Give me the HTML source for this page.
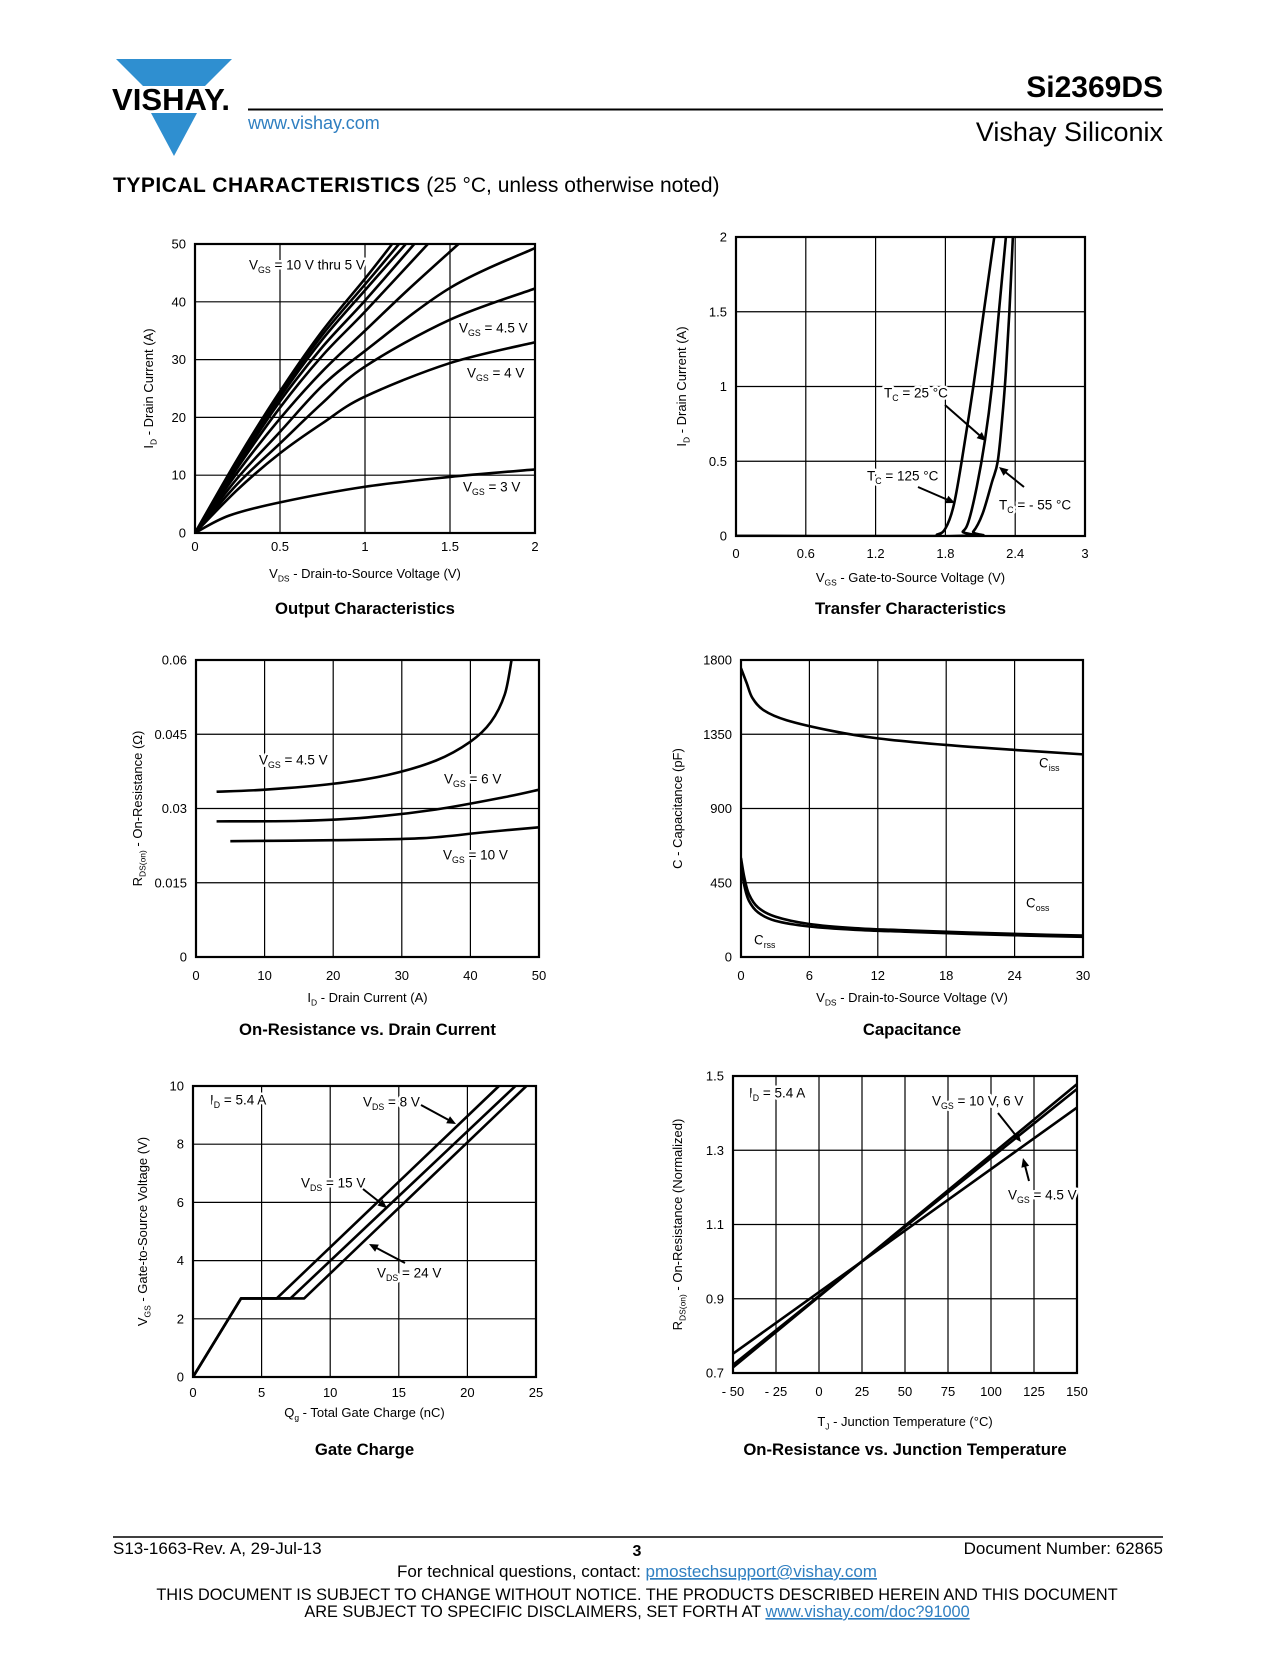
<!DOCTYPE html>
<html><head><meta charset="utf-8"><title>Si2369DS Typical Characteristics</title>
<style>
html,body{margin:0;padding:0;background:#fff;}
body{width:1275px;height:1650px;overflow:hidden;position:relative;font-family:"Liberation Sans",sans-serif;}
svg text{font-family:"Liberation Sans",sans-serif;}
</style></head>
<body>
<svg id="pg" width="1275" height="1650" viewBox="0 0 1275 1650" xmlns="http://www.w3.org/2000/svg">
  <g>
    <polygon points="116,59 232,59 205,86 143,86" fill="#2f8fd0"/>
    <polygon points="151,113 197,113 174,156" fill="#2f8fd0"/>
    <text x="112" y="110" font-size="31" font-weight="bold" textLength="118" lengthAdjust="spacingAndGlyphs" fill="#000">VISHAY.</text>
  </g>
  <text x="248" y="129" font-size="18" fill="#2f7fc1">www.vishay.com</text>
  <line x1="248" y1="109.5" x2="1163" y2="109.5" stroke="#000" stroke-width="2"/>
  <text x="1163" y="97" font-size="30" font-weight="bold" text-anchor="end">Si2369DS</text>
  <text x="1163" y="141" font-size="27" text-anchor="end">Vishay Siliconix</text>
  <text x="113" y="192" font-size="21"><tspan font-weight="bold" letter-spacing="0.5">TYPICAL CHARACTERISTICS</tspan> (25 °C, unless otherwise noted)</text>

  <line x1="113" y1="1537" x2="1163" y2="1537" stroke="#000" stroke-width="1.5"/>
  <text x="113" y="1554" font-size="17">S13-1663-Rev. A, 29-Jul-13</text>
  <text x="637" y="1556" font-size="16" font-weight="bold" text-anchor="middle">3</text>
  <text x="1163" y="1554" font-size="17" text-anchor="end">Document Number: 62865</text>
  <text x="637" y="1577" font-size="17" text-anchor="middle">For technical questions, contact: <tspan fill="#2f7fc1" text-decoration="underline">pmostechsupport@vishay.com</tspan></text>
  <text x="637" y="1600" font-size="16.3" text-anchor="middle">THIS DOCUMENT IS SUBJECT TO CHANGE WITHOUT NOTICE. THE PRODUCTS DESCRIBED HEREIN AND THIS DOCUMENT</text>
  <text x="637" y="1617" font-size="16.3" text-anchor="middle">ARE SUBJECT TO SPECIFIC DISCLAIMERS, SET FORTH AT <tspan fill="#2f7fc1" text-decoration="underline">www.vishay.com/doc?91000</tspan></text>
</svg>
<script>
// ===== Chart 1: Output Characteristics =====
const outXTicks = [0, 0.5, 1, 1.5, 2];
const outYTicks = [0, 10, 20, 30, 40, 50];
const outXTickLabels = ["0", "0.5", "1", "1.5", "2"];
const outYTickLabels = ["0", "10", "20", "30", "40", "50"];
const outVgs10 = [[0,0],[0.25,12.8],[0.5,24.5],[0.75,35],[1,44],[1.16,50]];
const outVgs8 = [[0,0],[0.25,12.5],[0.5,24],[0.75,34.3],[1,43],[1.2,50]];
const outVgs7 = [[0,0],[0.25,12.2],[0.5,23.5],[0.75,33.5],[1,42],[1.24,50]];
const outVgs6 = [[0,0],[0.25,11.8],[0.5,22.8],[0.75,32.2],[1,40.2],[1.29,50]];
const outVgs5 = [[0,0],[0.25,11.3],[0.5,21.7],[0.75,30.7],[1,38.3],[1.37,50]];
const outVgs5b = [[0,0],[0.25,10.5],[0.5,19.8],[0.75,28],[1,35],[1.25,42],[1.55,50]];
const outVgs45a = [[0,0],[0.25,9.5],[0.5,17.5],[0.75,25.5],[1,31.5],[1.5,42.4],[2,49.3]];
const outVgs45 = [[0,0],[0.25,8.5],[0.5,15.5],[0.75,22.5],[1,28.8],[1.5,36.9],[2,42.3]];
const outVgs4 = [[0,0],[0.25,7.5],[0.5,13.8],[0.75,19],[1,23.6],[1.5,29.4],[2,33]];
const outVgs3 = [[0,0],[0.2,3],[0.5,5.3],[1,8],[1.5,9.7],[2,11]];

// ===== Chart 2: Transfer Characteristics =====
const trXTicks = [0, 0.6, 1.2, 1.8, 2.4, 3];
const trYTicks = [0, 0.5, 1, 1.5, 2];
const trXTickLabels = ["0", "0.6", "1.2", "1.8", "2.4", "3"];
const trYTickLabels = ["0", "0.5", "1", "1.5", "2"];
const trT125 = [[0,0],[1.6,0],[1.73,0.01],[1.8,0.05],[1.87,0.2],[1.94,0.5],[2.04,1.0],[2.13,1.5],[2.22,2.0]];
const trT25 = [[0,0],[1.88,0],[1.95,0.03],[2.0,0.1],[2.07,0.33],[2.14,0.64],[2.2,1.0],[2.26,1.5],[2.32,2.0]];
const trTm55 = [[0,0],[1.96,0],[2.04,0.03],[2.12,0.15],[2.2,0.36],[2.25,0.5],[2.29,0.8],[2.32,1.1],[2.35,1.5],[2.38,2.0]];

// ===== Chart 3: On-Resistance vs Drain Current =====
const rdXTicks = [0, 10, 20, 30, 40, 50];
const rdYTicks = [0, 0.015, 0.03, 0.045, 0.06];
const rdXTickLabels = ["0", "10", "20", "30", "40", "50"];
const rdYTickLabels = ["0", "0.015", "0.03", "0.045", "0.06"];
const rdVgs45 = [[3,0.0334],[10,0.0338],[20,0.035],[28,0.0368],[35,0.0397],[40,0.0435],[43,0.0475],[45,0.053],[46,0.06]];
const rdVgs6 = [[3,0.0274],[15,0.0275],[25,0.0282],[35,0.0298],[45,0.0323],[50,0.0338]];
const rdVgs10 = [[5,0.0234],[20,0.0236],[33,0.024],[42,0.0252],[50,0.0262]];

// ===== Chart 4: Capacitance =====
const capXTicks = [0, 6, 12, 18, 24, 30];
const capYTicks = [0, 450, 900, 1350, 1800];
const capXTickLabels = ["0", "6", "12", "18", "24", "30"];
const capYTickLabels = ["0", "450", "900", "1350", "1800"];
const capCiss = [[0,1750],[0.5,1660],[1,1570],[2,1495],[4,1435],[8,1370],[12,1325],[18,1285],[24,1255],[30,1228]];
const capCoss = [[0,600],[0.3,480],[0.7,380],[1.5,300],[3,245],[6,200],[10,175],[15,160],[20,148],[25,138],[30,130]];
const capCrss = [[0,560],[0.3,430],[0.7,340],[1.5,270],[3,220],[6,185],[10,165],[15,152],[20,140],[25,130],[30,122]];

// ===== Chart 5: Gate Charge =====
const gcXTicks = [0, 5, 10, 15, 20, 25];
const gcYTicks = [0, 2, 4, 6, 8, 10];
const gcXTickLabels = ["0", "5", "10", "15", "20", "25"];
const gcYTickLabels = ["0", "2", "4", "6", "8", "10"];
const gcVds8 = [[0,0],[3.5,2.7],[6.1,2.7],[22.3,10]];
const gcVds15 = [[0,0],[3.5,2.7],[7.1,2.7],[23.5,10]];
const gcVds24 = [[0,0],[3.5,2.7],[8.1,2.7],[24.3,10]];

// ===== Chart 6: On-Resistance vs Junction Temperature =====
const tjXTicks = [-50, -25, 0, 25, 50, 75, 100, 125, 150];
const tjYTicks = [0.7, 0.9, 1.1, 1.3, 1.5];
const tjXTickLabels = ["- 50", "- 25", "0", "25", "50", "75", "100", "125", "150"];
const tjYTickLabels = ["0.7", "0.9", "1.1", "1.3", "1.5"];
const tjVgs10 = [[-50,0.715],[150,1.478]];
const tjVgs6 = [[-50,0.722],[150,1.465]];
const tjVgs45 = [[-50,0.752],[150,1.415]];

const NS = "http://www.w3.org/2000/svg";
const pg = document.getElementById('pg');

function mk(tag, attrs, parent) {
  const e = document.createElementNS(NS, tag);
  for (const k in attrs) e.setAttribute(k, attrs[k]);
  (parent || pg).appendChild(e);
  return e;
}
function richText(g, str, x, y, size, anchor, extra) {
  const t = mk('text', Object.assign({x: x, y: y, 'font-size': size, 'text-anchor': anchor || 'start', fill: '#000'}, extra || {}), g);
  const parts = str.split(/(_\{[^}]*\})/);
  parts.forEach(p => {
    if (!p) return;
    if (p.startsWith('_{')) {
      const s = mk('tspan', {'font-size': size * 0.65, dy: size * 0.25}, t);
      s.textContent = p.slice(2, -1);
      const r = mk('tspan', {dy: -size * 0.25}, t);
      r.textContent = '\u200B';
    } else {
      const s = mk('tspan', {}, t);
      s.textContent = p;
    }
  });
  return t;
}
function smoothPath(pts) {
  if (pts.length < 3) return 'M' + pts.map(p => p[0].toFixed(2) + ',' + p[1].toFixed(2)).join(' L');
  let d = 'M' + pts[0][0].toFixed(2) + ',' + pts[0][1].toFixed(2);
  for (let i = 0; i < pts.length - 1; i++) {
    const p0 = pts[i - 1] || pts[i], p1 = pts[i], p2 = pts[i + 1], p3 = pts[i + 2] || pts[i + 1];
    const c1 = [p1[0] + (p2[0] - p0[0]) / 6, p1[1] + (p2[1] - p0[1]) / 6];
    const c2 = [p2[0] - (p3[0] - p1[0]) / 6, p2[1] - (p3[1] - p1[1]) / 6];
    d += ' C' + c1.map(v => v.toFixed(2)).join(',') + ' ' + c2.map(v => v.toFixed(2)).join(',') + ' ' + p2[0].toFixed(2) + ',' + p2[1].toFixed(2);
  }
  return d;
}

function chart(c) {
  const g = mk('g', {});
  
  
  const xmin = c.xTicks[0], xmax = c.xTicks[c.xTicks.length - 1];
  const ymin = c.yTicks[0], ymax = c.yTicks[c.yTicks.length - 1];
  const sx = v => c.L + (v - xmin) / (xmax - xmin) * (c.R - c.L);
  const sy = v => c.B - (v - ymin) / (ymax - ymin) * (c.B - c.T);
  c.xTicks.forEach((v, i) => {
    const ln = mk('line', {x1: sx(v), x2: sx(v), y1: c.T, y2: c.B, stroke: '#000', 'stroke-width': 1.2}, g);
    
    
    const t = mk('text', {x: sx(v), y: c.B + c.xTickDy, 'font-size': 13, 'text-anchor': 'middle'}, g);
    t.textContent = c.xLabels[i];
    
    
  });
  c.yTicks.forEach((v, i) => {
    const ln = mk('line', {x1: c.L, x2: c.R, y1: sy(v), y2: sy(v), stroke: '#000', 'stroke-width': 1.2}, g);
    
    
    const t = mk('text', {x: c.L - 9, y: sy(v) + 4.5, 'font-size': 13, 'text-anchor': 'end'}, g);
    t.textContent = c.yLabels[i];
    
    
  });
  const fr = mk('rect', {x: c.L, y: c.T, width: c.R - c.L, height: c.B - c.T, fill: 'none', stroke: '#000', 'stroke-width': 2.2}, g);
  
  
  (c.notes || []).forEach(n => {
    const t = richText(g, n[0], n[1], n[2] + 4.5, 13.5, 'start', {stroke: '#fff', 'stroke-width': 5, 'paint-order': 'stroke', 'stroke-linejoin': 'round'});
    
    
  });
  const clip = 'clip-' + c.name;
  const cp = mk('clipPath', {id: clip}, g);
  mk('rect', {x: c.L - 1, y: c.T - 1, width: c.R - c.L + 2, height: c.B - c.T + 2}, cp);
  c.series.forEach(s => {
    const pts = s.data.map(p => [sx(p[0]), sy(p[1])]);
    const d = s.linear ? 'M' + pts.map(p => p[0].toFixed(2) + ',' + p[1].toFixed(2)).join(' L') : smoothPath(pts);
    const p = mk('path', {d: d, fill: 'none', stroke: '#000', 'stroke-width': 2.6, 'stroke-linejoin': 'round', 'clip-path': 'url(#' + clip + ')'}, g);
    
    
  });
  (c.arrows || []).forEach(a => {
    const [x1, y1, x2, y2] = a;
    const ang = Math.atan2(y2 - y1, x2 - x1), L = 9, W = 4;
    const ln = mk('line', {x1: x1, y1: y1, x2: x2 - Math.cos(ang) * 6, y2: y2 - Math.sin(ang) * 6, stroke: '#000', 'stroke-width': 2}, g);
    
    
    const bx = x2 - Math.cos(ang) * L, by = y2 - Math.sin(ang) * L;
    const hd = mk('polygon', {points: [x2, y2, bx + Math.sin(ang) * W, by - Math.cos(ang) * W, bx - Math.sin(ang) * W, by + Math.cos(ang) * W].join(','), fill: '#000'}, g);
    
    
  });
  const xt = richText(g, c.xTitle, (c.L + c.R) / 2, c.B + c.xTitleDy, 13, 'middle');
  
  
  const yc = (c.T + c.B) / 2;
  const yt = richText(g, c.yTitle, c.yTitleX, yc, 13, 'middle', {transform: 'rotate(-90 ' + c.yTitleX + ' ' + yc + ')'});
  
  
  const ct = mk('text', {x: (c.L + c.R) / 2, y: c.titleY, 'font-size': 16.7, 'font-weight': 'bold', 'text-anchor': 'middle'}, g);
  ct.textContent = c.title;
  
  
}

chart({name: 'output-characteristics-chart', L: 195, R: 535, T: 244, B: 533,
  xTicks: outXTicks, yTicks: outYTicks, xLabels: outXTickLabels, yLabels: outYTickLabels,
  xTickDy: 18, xTitleDy: 45, yTitleX: 153, titleY: 614,
  xTitle: 'V_{DS} - Drain-to-Source Voltage (V)', yTitle: 'I_{D} - Drain Current (A)', title: 'Output Characteristics',
  notes: [['V_{GS} = 10 V thru 5 V', 249, 265], ['V_{GS} = 4.5 V', 459, 328], ['V_{GS} = 4 V', 467, 373], ['V_{GS} = 3 V', 463, 487]],
  series: [{name: 'vgs-10v-curve', data: outVgs10}, {name: 'vgs-8v-curve', data: outVgs8}, {name: 'vgs-7v-curve', data: outVgs7},
    {name: 'vgs-6v-curve', data: outVgs6}, {name: 'vgs-5v-curve', data: outVgs5}, {name: 'vgs-5v-lower-curve', data: outVgs5b},
    {name: 'vgs-4-5v-upper-curve', data: outVgs45a}, {name: 'vgs-4-5v-curve', data: outVgs45}, {name: 'vgs-4v-curve', data: outVgs4},
    {name: 'vgs-3v-curve', data: outVgs3}]});

chart({name: 'transfer-characteristics-chart', L: 736, R: 1085, T: 237, B: 536,
  xTicks: trXTicks, yTicks: trYTicks, xLabels: trXTickLabels, yLabels: trYTickLabels,
  xTickDy: 22, xTitleDy: 46, yTitleX: 686, titleY: 614,
  xTitle: 'V_{GS} - Gate-to-Source Voltage (V)', yTitle: 'I_{D} - Drain Current (A)', title: 'Transfer Characteristics',
  notes: [['T_{C} = 25 °C', 884, 393], ['T_{C} = 125 °C', 867, 476], ['T_{C} = - 55 °C', 999, 505]],
  arrows: [[945, 405, 986, 441], [918, 487, 955, 503], [1024, 487, 999, 467]],
  series: [{name: 'tc-125c-curve', data: trT125}, {name: 'tc-25c-curve', data: trT25}, {name: 'tc-minus55c-curve', data: trTm55}]});

chart({name: 'on-resistance-vs-drain-current-chart', L: 196, R: 539, T: 660, B: 957,
  xTicks: rdXTicks, yTicks: rdYTicks, xLabels: rdXTickLabels, yLabels: rdYTickLabels,
  xTickDy: 23, xTitleDy: 45, yTitleX: 142, titleY: 1035,
  xTitle: 'I_{D} - Drain Current (A)', yTitle: 'R_{DS(on)} - On-Resistance (Ω)', title: 'On-Resistance vs. Drain Current',
  notes: [['V_{GS} = 4.5 V', 259, 760], ['V_{GS} = 6 V', 444, 779], ['V_{GS} = 10 V', 443, 855]],
  series: [{name: 'vgs-4-5v-curve', data: rdVgs45}, {name: 'vgs-6v-curve', data: rdVgs6}, {name: 'vgs-10v-curve', data: rdVgs10}]});

chart({name: 'capacitance-chart', L: 741, R: 1083, T: 660, B: 957,
  xTicks: capXTicks, yTicks: capYTicks, xLabels: capXTickLabels, yLabels: capYTickLabels,
  xTickDy: 23, xTitleDy: 45, yTitleX: 682, titleY: 1035,
  xTitle: 'V_{DS} - Drain-to-Source Voltage (V)', yTitle: 'C - Capacitance (pF)', title: 'Capacitance',
  notes: [['C_{iss}', 1039, 763], ['C_{oss}', 1026, 903], ['C_{rss}', 754, 940]],
  series: [{name: 'ciss-curve', data: capCiss}, {name: 'coss-curve', data: capCoss}, {name: 'crss-curve', data: capCrss}]});

chart({name: 'gate-charge-chart', L: 193, R: 536, T: 1086, B: 1377,
  xTicks: gcXTicks, yTicks: gcYTicks, xLabels: gcXTickLabels, yLabels: gcYTickLabels,
  xTickDy: 20, xTitleDy: 40, yTitleX: 147, titleY: 1455,
  xTitle: 'Q_{g} - Total Gate Charge (nC)', yTitle: 'V_{GS} - Gate-to-Source Voltage (V)', title: 'Gate Charge',
  notes: [['I_{D} = 5.4 A', 210, 1100], ['V_{DS} = 8 V', 363, 1102], ['V_{DS} = 15 V', 301, 1183], ['V_{DS} = 24 V', 377, 1273]],
  arrows: [[421, 1105, 456, 1124], [363, 1189, 387, 1208], [405, 1263, 369, 1244]],
  series: [{name: 'vds-8v-curve', data: gcVds8, linear: true}, {name: 'vds-15v-curve', data: gcVds15, linear: true}, {name: 'vds-24v-curve', data: gcVds24, linear: true}]});

chart({name: 'on-resistance-vs-temperature-chart', L: 733, R: 1077, T: 1076, B: 1373,
  xTicks: tjXTicks, yTicks: tjYTicks, xLabels: tjXTickLabels, yLabels: tjYTickLabels,
  xTickDy: 23, xTitleDy: 53, yTitleX: 682, titleY: 1455,
  xTitle: 'T_{J} - Junction Temperature (°C)', yTitle: 'R_{DS(on)} - On-Resistance (Normalized)', title: 'On-Resistance vs. Junction Temperature',
  notes: [['I_{D} = 5.4 A', 749, 1093], ['V_{GS} = 10 V, 6 V', 932, 1101], ['V_{GS} = 4.5 V', 1008, 1195]],
  arrows: [[998, 1113, 1021, 1142], [1029, 1181, 1023, 1158]],
  series: [{name: 'vgs-10v-line', data: tjVgs10, linear: true}, {name: 'vgs-6v-line', data: tjVgs6, linear: true}, {name: 'vgs-4-5v-line', data: tjVgs45, linear: true}]});
</script>
</body></html>
